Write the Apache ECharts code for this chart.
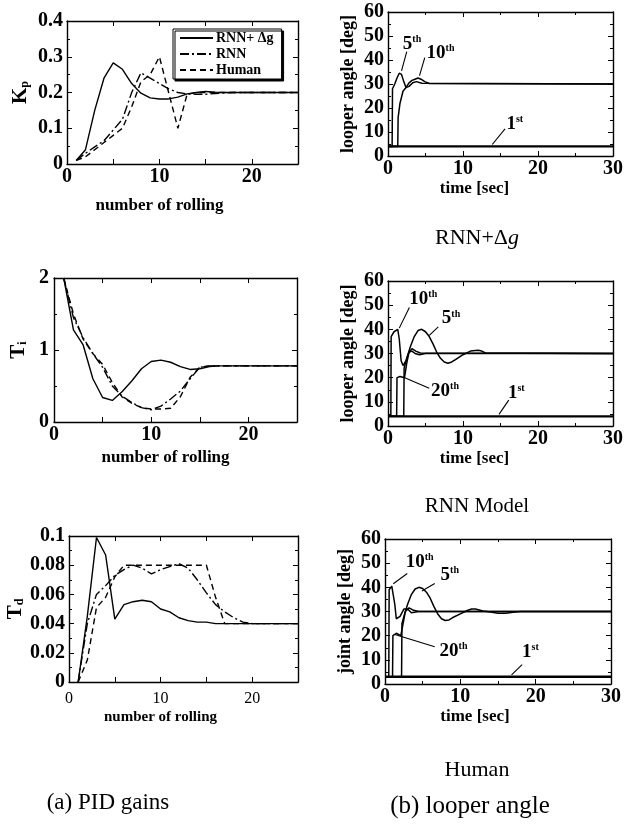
<!DOCTYPE html>
<html><head><meta charset="utf-8">
<script src="https://cdn.jsdelivr.net/npm/echarts@6/dist/echarts.min.js"></script>
<style>html,body{margin:0;padding:0;background:#fff;}#c{width:636px;height:832px;}</style>
</head><body><div id="c"></div>
<script>
// ---------- DATA ----------
const rolling = [1,2,3,4,5,6,7,8,9,10,11,12,13,14,15,16,17,18,19,20,21,22,23,24,25];
const kpRnnDg = [0.01,0.04,0.15,0.24,0.283,0.265,0.225,0.198,0.185,0.182,0.182,0.187,0.196,0.2,0.203,0.201,0.2,0.2,0.2,0.2,0.2,0.2,0.2,0.2,0.2];
const kpRnn   = [0.01,0.03,0.048,0.065,0.095,0.125,0.2,0.255,0.24,0.225,0.21,0.2,0.196,0.195,0.195,0.197,0.199,0.2,0.2,0.2,0.2,0.2,0.2,0.2,0.2];
const kpHuman = [0.01,0.02,0.04,0.06,0.08,0.1,0.16,0.23,0.25,0.3,0.2,0.1,0.195,0.2,0.2,0.2,0.2,0.2,0.2,0.2,0.2,0.2,0.2,0.2,0.2];
const tiRnnDg = [2.0,1.28,1.07,0.6,0.34,0.3,0.42,0.57,0.74,0.84,0.86,0.83,0.77,0.73,0.74,0.77,0.78,0.78,0.78,0.78,0.78,0.78,0.78,0.78,0.78];
const tiRnn   = [2.0,1.45,1.17,0.95,0.76,0.5,0.36,0.27,0.2,0.17,0.22,0.32,0.43,0.6,0.76,0.78,0.78,0.78,0.78,0.78,0.78,0.78,0.78,0.78,0.78];
const tiHuman = [2.0,1.5,1.15,0.95,0.8,0.55,0.35,0.26,0.2,0.18,0.18,0.19,0.35,0.62,0.76,0.78,0.78,0.78,0.78,0.78,0.78,0.78,0.78,0.78,0.78];
const tdRnnDg = [0,0.045,0.099,0.087,0.043,0.053,0.055,0.056,0.055,0.05,0.048,0.044,0.042,0.041,0.041,0.04,0.04,0.04,0.04,0.04,0.04,0.04,0.04,0.04,0.04];
const tdRnn   = [0,0.04,0.06,0.066,0.073,0.077,0.08,0.078,0.074,0.077,0.079,0.081,0.078,0.07,0.061,0.053,0.048,0.044,0.041,0.04,0.04,0.04,0.04,0.04,0.04];
const tdHuman = [0,0.015,0.051,0.058,0.072,0.08,0.08,0.08,0.08,0.08,0.08,0.08,0.08,0.08,0.08,0.058,0.04,0.04,0.04,0.04,0.04,0.04,0.04,0.04,0.04];

// looper angle, RNN + delta g
const dg1T = [0,30], dg1V = [4,4];
const dg5T = [0,0.55,0.6,0.9,1.2,1.5,1.8,2.1,2.4,2.8,3.3,3.8,4.5,30];
const dg5V = [4,4,28,30,32.5,34.5,34,31,28.5,29,30.5,31,30.3,30];
const dg10T = [0,1.3,1.35,1.6,2.0,2.4,2.8,3.2,3.6,4.0,4.4,4.9,5.5,30];
const dg10V = [4,4,16,22,27,28.5,30.5,31.5,32,32.5,32,31,30.2,30];
// looper angle, RNN model
const rn1T = [0,30], rn1V = [4,4];
const rn10T = [0,0.38,0.42,0.8,1.3,1.5,1.75,2.0,2.4,2.8,3.2,3.6,4.2,5.0,30];
const rn10V = [4,4,37,39,40,36,27,25,27,30.5,31,30,29.5,30,30];
const rn20T = [0,1.15,1.2,1.6,2.2,2.5,2.8,3.2,3.7,4.3,30];
const rn20V = [4,4,20,20.5,20,26,30.5,32,31,30.2,30];
const rn5T = [0,2.1,2.15,2.5,3,3.5,4,4.5,5,5.5,6,6.5,7,7.5,8,8.5,9,10,11,12,12.5,13,30];
const rn5V = [4,4,24,28,33,37,39.5,40,39,37,34,30.5,28,26.5,26,26.5,27.5,29.5,31,31.3,31,30.2,30];
// joint angle, Human
const hu1T = [0,30], hu1V = [3,3];
const hu10T = [0,0.5,0.55,0.9,1.1,1.3,1.5,2.0,2.5,3.0,3.5,4.5,30];
const hu10V = [3,3,39,40.5,41,33,27,28,31,31,29.5,30,30];
const hu20T = [0,1.0,1.05,1.5,2.1,2.4,2.7,3.2,3.8,4.5,30];
const hu20V = [3,3,20,21,20,25,30,31.5,30.5,30,30];
const hu5T = [0,2.2,2.25,2.6,3,3.5,4,4.5,5,5.5,6,6.5,7,7.5,8,8.5,9,10,11,11.5,12,13,14,15,16,17,18,30];
const hu5V = [3,3,25,29,33,37,39.3,40,39.5,38,35.5,32,29,27,26.3,26.5,27.5,29,30.5,31,31,30.2,29.8,29.3,29.3,29.7,30,30];

// annotation labels: [main, sup, labelT, labelV, tailT, tailV, tipT, tipV]
const annDg = [['5','th',3.2,46.7,2.5,43.5,1.8,35.5],['10','th',7.0,43,4.9,41,4.2,33.5],['1','st',16.9,13.5,15.6,11.3,13.9,4.8]];
const annRn = [['10','th',4.7,52.5,2.85,49,1.5,40.5],['5','th',8.4,44.5,6.7,41,5.5,37.5],['20','th',7.6,14.5,5.5,15.6,2.0,20.3],['1','st',17.1,13.6,16.1,10.7,14.8,4.8]];
const annHu = [['10','th',4.6,50.4,2.95,45.7,1.1,41.5],['5','th',8.6,45,6.6,41.6,4.9,38.5],['20','th',9.1,13.6,6.6,15.4,1.3,20.5],['1','st',19.3,13.2,18.2,8,16.8,3.8]];

// ---------- STYLE / LAYOUT ----------
const SERIF = 'Liberation Serif';
const grids = [
  {left:67, top:21, width:231, height:143},
  {left:388, top:12, width:225, height:144},
  {left:54, top:278, width:243, height:144},
  {left:388, top:281, width:225, height:145},
  {left:69, top:536, width:229, height:146},
  {left:385, top:539, width:226, height:145}
];
const tickLabel = {color:'#000', fontFamily:SERIF, fontWeight:'bold', fontSize:20};
const nameStyle = {color:'#000', fontFamily:SERIF, fontWeight:'bold', fontSize:17};
const subRich = {a:{fontFamily:SERIF, fontWeight:'bold', fontSize:21, color:'#000'}, b:{fontFamily:SERIF, fontWeight:'bold', fontSize:12, color:'#000', verticalAlign:'bottom', padding:[7,0,0,0]}};

const xAxes = [], yAxes = [];
function addAxes(gi, xs, ys) {
  const base = (g) => ({gridIndex:g, type:'value',
    axisLine:{show:true, onZero:false, lineStyle:{color:'#000', width:1.4}},
    axisTick:{show:true, inside:true, length:5, lineStyle:{color:'#000', width:1}},
    splitLine:{show:false}});
  const mk = (spec, pos, main) => Object.assign(base(gi), {
    position:pos, min:spec.min, max:spec.max, interval:spec.interval,
    minorTick:{show:!!spec.minor, splitNumber:spec.minor||5, length:3, lineStyle:{color:'#000', width:1}},
    axisLabel: main ? Object.assign({show:true, margin:spec.margin, formatter:spec.fmt}, tickLabel, spec.label||{}) : {show:false},
    name: main ? spec.name : '', nameLocation:'middle', nameGap:spec.gap,
    nameTextStyle: Object.assign({}, nameStyle, spec.nstyle||{}, spec.rich ? {rich:spec.rich} : {})
  });
  xAxes.push(mk(xs,'bottom',true)); xAxes.push(mk(xs,'top',false));
  yAxes.push(mk(ys,'left',true)); yAxes.push(mk(ys,'right',false));
}
const rollFmt = v => (v % 10 === 0 ? String(v) : '');
const rollX = (gap, shift, extra) => Object.assign({min:0, max:25, interval:5, fmt:rollFmt, margin:3, name:'number of rolling', gap:gap, nstyle:{padding:[0, shift, 0, 0]}}, extra||{});
const timeX = (gap, shift) => ({min:0, max:30, interval:10, minor:2, margin:3, name:'time [sec]', gap:gap, nstyle:{padding:[0, shift, 0, 0]}});
const loopY = (name) => ({min:0, max:60, interval:10, minor:2, margin:4, name:name, gap:31, nstyle:{fontSize:18}});
addAxes(0, rollX(33, 46), {min:0, max:0.4, interval:0.1, minor:2, margin:4, name:'{a|K}{b|p}', gap:36, rich:subRich});
addAxes(1, timeX(22, 52), loopY('looper angle [deg]'));
addAxes(2, rollX(27, 20), {min:0, max:2, interval:1, minor:2, margin:5, name:'{a|T}{b|i}', gap:25, rich:subRich});
addAxes(3, timeX(16, 52), loopY('looper angle [deg]'));
addAxes(4, rollX(28, 46, {margin:9, label:{fontWeight:'normal', fontSize:16}, nstyle:{padding:[0,46,0,0], fontSize:15}}), {min:0, max:0.1, interval:0.02, minor:2, margin:4, name:'{a|T}{b|d}', gap:40, rich:subRich});
addAxes(5, timeX(21, 46), loopY('joint angle [deg]'));

const pair = (xs, ys) => xs.map((x, i) => [x, ys[i]]);
const SOLID = 'solid', DASH = [6,4], DASHDOT = [9,3,2,3];
function gainSeries(gi, name, xs, ys, type) {
  return {type:'line', name:name, xAxisIndex:gi*2, yAxisIndex:gi*2, data:pair(xs, ys),
    symbol:'none', showSymbol:false, silent:true, lineStyle:{color:'#000', width:1.4, type:type}, itemStyle:{color:'#000'}};
}
const series = [];
series.push(gainSeries(0,'RNN+ Δg', rolling, kpRnnDg, SOLID));
series.push(gainSeries(0,'RNN', rolling, kpRnn, DASHDOT));
series.push(gainSeries(0,'Human', rolling, kpHuman, DASH));
series.push(gainSeries(2,'RNN+ Δg', rolling, tiRnnDg, SOLID));
series.push(gainSeries(2,'RNN', rolling, tiRnn, DASHDOT));
series.push(gainSeries(2,'Human', rolling, tiHuman, DASH));
series.push(gainSeries(4,'RNN+ Δg', rolling, tdRnnDg, SOLID));
series.push(gainSeries(4,'RNN', rolling, tdRnn, DASHDOT));
series.push(gainSeries(4,'Human', rolling, tdHuman, DASH));

const annRich = {a:{fontFamily:SERIF, fontWeight:'bold', fontSize:19, color:'#000'}, b:{fontFamily:SERIF, fontWeight:'bold', fontSize:10, color:'#000', verticalAlign:'top', padding:[0,0,9,0]}};
function loopSeries(gi, name, ts, vs, w, ann) {
  const s = {type:'line', name:name, xAxisIndex:gi*2, yAxisIndex:gi*2, data:pair(ts, vs),
    symbol:'none', silent:true, lineStyle:{color:'#000', width:w}};
  if (ann) {
    s.markLine = {silent:true, symbol:['none','arrow'], symbolSize:[0,8], animation:false,
      label:{show:false}, lineStyle:{color:'#000', width:1.1, type:'solid'},
      data: ann.map(a => [{coord:[a[4], a[5]]}, {coord:[a[6], a[7]]}])};
    s.markPoint = {silent:true, symbol:'circle', symbolSize:1, animation:false,
      itemStyle:{color:'rgba(0,0,0,0)'},
      label:{show:true, position:'inside', rich:annRich},
      data: ann.map(a => ({coord:[a[2], a[3]], label:{formatter:'{a|' + a[0] + '}{b|' + a[1] + '}'}}))};
  }
  return s;
}
series.push(loopSeries(1,'1st', dg1T, dg1V, 2.4, annDg));
series.push(loopSeries(1,'5th', dg5T, dg5V, 1.5));
series.push(loopSeries(1,'10th', dg10T, dg10V, 1.5));
series.push(loopSeries(3,'1st', rn1T, rn1V, 2.4, annRn));
series.push(loopSeries(3,'10th', rn10T, rn10V, 1.5));
series.push(loopSeries(3,'20th', rn20T, rn20V, 1.5));
series.push(loopSeries(3,'5th', rn5T, rn5V, 1.5));
series.push(loopSeries(5,'1st', hu1T, hu1V, 2.4, annHu));
series.push(loopSeries(5,'10th', hu10T, hu10V, 1.5));
series.push(loopSeries(5,'20th', hu20T, hu20V, 1.5));
series.push(loopSeries(5,'5th', hu5T, hu5V, 1.5));

const capFont = 'Liberation Serif';
const option = {
  animation:false,
  backgroundColor:'#fff',
  grid: grids.map(g => Object.assign({containLabel:false}, g)),
  xAxis: xAxes, yAxis: yAxes, series: series,
  legend: {data:['RNN+ Δg','RNN','Human'], orient:'vertical', left:173, top:29,
    itemWidth:33, itemHeight:10, itemGap:2, padding:[2,8,2,6],
    itemStyle:{color:'rgba(0,0,0,0)', borderColor:'rgba(0,0,0,0)', borderWidth:0, opacity:0},
    backgroundColor:'#fff', borderColor:'#000', borderWidth:1, borderRadius:0,
    shadowColor:'#000', shadowBlur:0, shadowOffsetX:2, shadowOffsetY:2,
    textStyle:{fontFamily:SERIF, fontWeight:'bold', fontSize:14, lineHeight:14, color:'#000', padding:[0,0,0,-2]},
    selectedMode:false},
  graphic: [
    {type:'text', x:477, y:238, style:{text:'{n|RNN+Δ}{i|g}', textAlign:'center', textVerticalAlign:'middle',
      rich:{n:{fontFamily:capFont, fontSize:22, fill:'#000'}, i:{fontFamily:capFont, fontStyle:'italic', fontSize:22, fill:'#000'}}}},
    {type:'text', x:477, y:506, style:{text:'RNN Model', font:'21px "Liberation Serif"', fill:'#000', textAlign:'center', textVerticalAlign:'middle'}},
    {type:'text', x:477, y:770, style:{text:'Human', font:'22px "Liberation Serif"', fill:'#000', textAlign:'center', textVerticalAlign:'middle'}},
    {type:'text', x:108, y:803, style:{text:'(a) PID gains', font:'23px "Liberation Serif"', fill:'#000', textAlign:'center', textVerticalAlign:'middle'}},
    {type:'text', x:470, y:806, style:{text:'(b) looper angle', font:'25px "Liberation Serif"', fill:'#000', textAlign:'center', textVerticalAlign:'middle'}}
  ]
};
const chart = echarts.init(document.getElementById('c'));
chart.setOption(option);
</script></body></html>
